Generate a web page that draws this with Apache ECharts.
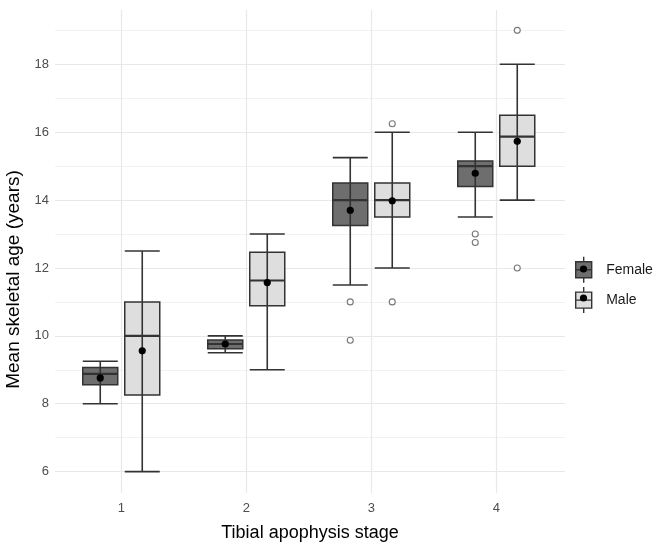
<!DOCTYPE html>
<html>
<head>
<meta charset="utf-8">
<script src="https://cdn.jsdelivr.net/npm/echarts@6/dist/echarts.min.js"></script>
<style>html,body{margin:0;padding:0;background:#fff}#c{width:653px;height:544px}</style>
</head>
<body>
<div id="c"></div>
<script>
// ---- data ----
const stages = [1, 2, 3, 4];
const stageLabels = ['1', '2', '3', '4'];

const femaleLow    = [8.0, 9.5, 11.5, 13.5];
const femaleQ1     = [8.56, 9.62, 13.25, 14.4];
const femaleMedian = [8.88, 9.76, 14.0, 15.0];
const femaleQ3     = [9.07, 9.88, 14.5, 15.15];
const femaleHigh   = [9.25, 10.0, 15.25, 16.0];
const femaleMean   = [8.76, 9.76, 13.7, 14.79];
const femaleOutStage = [3, 3, 4, 4];
const femaleOutValue = [11.0, 9.87, 13.0, 12.75];

const maleLow    = [6.0, 9.0, 12.0, 14.0];
const maleQ1     = [8.26, 10.89, 13.5, 15.0];
const maleMedian = [10.0, 11.63, 14.0, 15.87];
const maleQ3     = [11.0, 12.46, 14.5, 16.5];
const maleHigh   = [12.5, 13.0, 16.0, 18.0];
const maleMean   = [9.56, 11.57, 13.98, 15.73];
const maleOutStage = [3, 3, 4, 4];
const maleOutValue = [16.25, 11.0, 19.0, 12.0];

const groups = ['Female', 'Male'];

// ---- layout / style ----
const DODGE = 0.168, HALF = 0.14;
const FONT = 'Liberation Sans, Arial, Helvetica, sans-serif';
const fills = {Female: '#6e6e6e', Male: '#dedede'};
const LINE = '#333333';

function boxData(low, q1, med, q3, high, mean) {
  return stages.map((s, i) => [s, low[i], q1[i], med[i], q3[i], high[i], mean[i]]);
}
function outData(st, val, dir) {
  return st.map((s, i) => [s + dir * DODGE, val[i]]);
}

function makeRender(dir, fill) {
  return function (params, api) {
    const x = api.value(0) + dir * DODGE;
    const pLow = api.coord([x, api.value(1)]);
    const pQ1 = api.coord([x, api.value(2)]);
    const pMed = api.coord([x, api.value(3)]);
    const pQ3 = api.coord([x, api.value(4)]);
    const pHigh = api.coord([x, api.value(5)]);
    const pMean = api.coord([x, api.value(6)]);
    const hw = api.size([HALF, 0])[0];
    const cx = pMed[0];
    const ls = {stroke: LINE, lineWidth: 1.6};
    return {
      type: 'group',
      children: [
        {type: 'rect', shape: {x: cx - hw, y: pQ3[1], width: 2 * hw, height: pQ1[1] - pQ3[1]},
         style: {fill: fill, stroke: LINE, lineWidth: 1.5}},
        {type: 'line', shape: {x1: cx, y1: pLow[1], x2: cx, y2: pHigh[1]}, style: ls},
        {type: 'line', shape: {x1: cx - hw, y1: pLow[1], x2: cx + hw, y2: pLow[1]}, style: ls},
        {type: 'line', shape: {x1: cx - hw, y1: pHigh[1], x2: cx + hw, y2: pHigh[1]}, style: ls},
        {type: 'line', shape: {x1: cx - hw, y1: pMed[1], x2: cx + hw, y2: pMed[1]}, style: {stroke: LINE, lineWidth: 2.2}},
        {type: 'circle', shape: {cx: cx, cy: pMean[1], r: 3.6}, style: {fill: '#000'}}
      ]
    };
  };
}

const chart = echarts.init(document.getElementById('c'), null, {renderer: 'canvas'});
const legendIcon = 'path://M0 5 H16 V21 H0 Z M8 0 V5 M8 21 V26 M0 13 H16';

chart.setOption({
  animation: false,
  backgroundColor: '#ffffff',
  textStyle: {fontFamily: FONT},
  grid: {left: 55, right: 88, top: 10, bottom: 51, containLabel: false, outerBoundsMode: 'none'},
  xAxis: {
    type: 'value', min: 0.47, max: 4.55, minInterval: 1, maxInterval: 1,
    name: 'Tibial apophysis stage', nameLocation: 'middle', nameGap: 31,
    nameTextStyle: {fontSize: 18, color: '#000', fontFamily: FONT},
    axisLine: {show: false}, axisTick: {show: false},
    axisLabel: {fontSize: 13, color: '#4d4d4d', margin: 9, showMinLabel: false, showMaxLabel: false,
      formatter: v => { const i = stages.indexOf(v); return i >= 0 ? stageLabels[i] : ''; }},
    splitLine: {show: true, showMinLine: false, showMaxLine: false, lineStyle: {color: '#e8e8e8', width: 1.2}}
  },
  yAxis: [{
    type: 'value', min: 5.37, max: 19.6, minInterval: 2, maxInterval: 2,
    name: 'Mean skeletal age (years)', nameLocation: 'middle', nameGap: 28,
    nameTextStyle: {fontSize: 19, color: '#000', fontFamily: FONT, padding: [0, 56, 0, 0]},
    axisLine: {show: false}, axisTick: {show: false},
    axisLabel: {fontSize: 13, color: '#4d4d4d', margin: 6, showMinLabel: false, showMaxLabel: false},
    splitLine: {show: true, showMinLine: false, showMaxLine: false, lineStyle: {color: '#e8e8e8', width: 1.2}}
  }, {
    // helper axis shifted by one year: its grid lines fall on the odd (minor) years
    type: 'value', min: 4.37, max: 18.6, minInterval: 2, maxInterval: 2, position: 'left',
    axisLine: {show: false}, axisTick: {show: false}, axisLabel: {show: false},
    splitLine: {show: true, showMinLine: false, showMaxLine: false, lineStyle: {color: '#f0f0f0', width: 0.9}}
  }],
  legend: {
    left: 575, top: 256, padding: 0, orient: 'vertical', itemWidth: 17, itemHeight: 26, itemGap: 3,
    textStyle: {fontSize: 14, color: '#1a1a1a', fontFamily: FONT, padding: [0, 0, 0, 9]},
    data: groups.map(g => ({name: g, icon: legendIcon,
      itemStyle: {color: fills[g], borderColor: LINE, borderWidth: 1.4}}))
  },
  graphic: [
    {type: 'circle', shape: {cx: 583.5, cy: 269, r: 3.6}, style: {fill: '#000'}, z: 100},
    {type: 'circle', shape: {cx: 583.5, cy: 298, r: 3.6}, style: {fill: '#000'}, z: 100}
  ],
  series: [
    {name: 'Female', type: 'custom', renderItem: makeRender(-1, fills.Female),
     data: boxData(femaleLow, femaleQ1, femaleMedian, femaleQ3, femaleHigh, femaleMean),
     encode: {x: 0, y: [1, 5]}, itemStyle: {color: fills.Female}, z: 3},
    {name: 'Male', type: 'custom', renderItem: makeRender(1, fills.Male),
     data: boxData(maleLow, maleQ1, maleMedian, maleQ3, maleHigh, maleMean),
     encode: {x: 0, y: [1, 5]}, itemStyle: {color: fills.Male}, z: 3},
    {name: 'Female', type: 'scatter', data: outData(femaleOutStage, femaleOutValue, -1),
     symbol: 'circle', symbolSize: 6, itemStyle: {color: '#fff', borderColor: '#555', borderWidth: 1.1}, z: 4},
    {name: 'Male', type: 'scatter', data: outData(maleOutStage, maleOutValue, 1),
     symbol: 'circle', symbolSize: 6, itemStyle: {color: '#fff', borderColor: '#555', borderWidth: 1.1}, z: 4}
  ]
});
</script>
</body>
</html>
